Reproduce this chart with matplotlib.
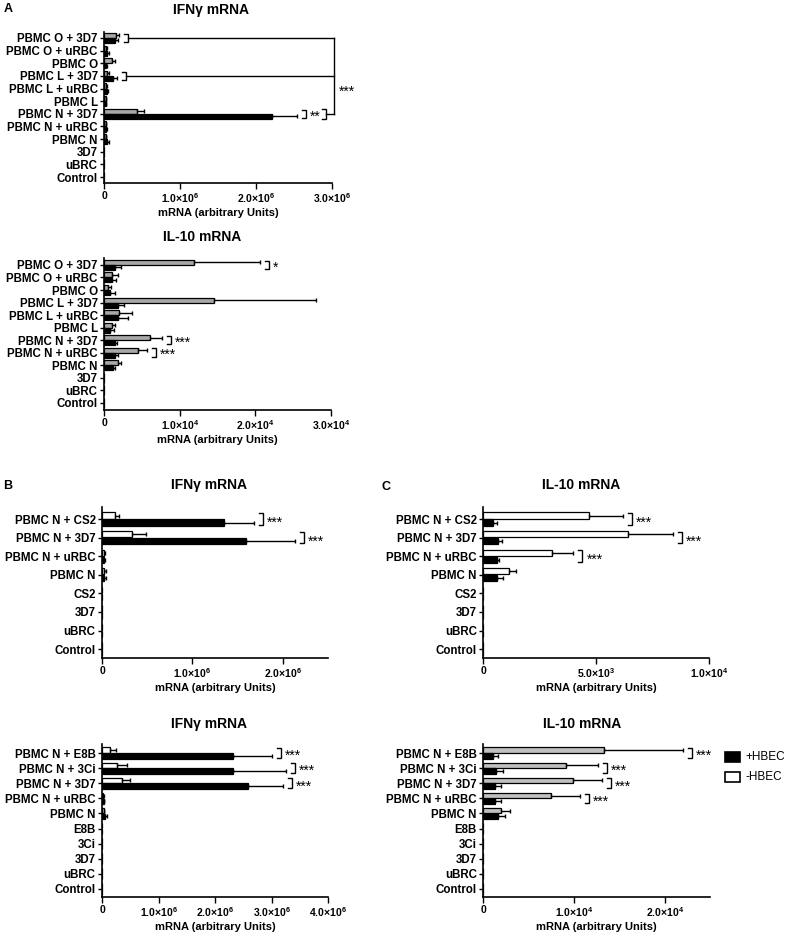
import matplotlib
matplotlib.use("Agg")
import matplotlib.pyplot as plt
from matplotlib.patches import Rectangle
import numpy as np

plt.rcParams['font.family'] = ['Liberation Sans', 'DejaVu Sans']
plt.rcParams['font.weight'] = 'bold'
plt.rcParams['mathtext.fontset'] = 'custom'
plt.rcParams['mathtext.rm'] = 'Liberation Sans:bold'
plt.rcParams['mathtext.default'] = 'rm'

# ---- data ----
cats_A = ["PBMC O + 3D7", "PBMC O + uRBC", "PBMC O", "PBMC L + 3D7", "PBMC L + uRBC",
          "PBMC L", "PBMC N + 3D7", "PBMC N + uRBC", "PBMC N", "3D7", "uBRC", "Control"]
ifn_A_minus = [0.16e6, 0.03e6, 0.10e6, 0.04e6, 0.03e6, 0.02e6, 0.43e6, 0.02e6, 0.02e6, 0, 0, 0]
ifn_A_minus_sem = [0.04e6, 0.01e6, 0.05e6, 0.02e6, 0.01e6, 0.01e6, 0.09e6, 0.01e6, 0.01e6, 0, 0, 0]
ifn_A_plus = [0.14e6, 0.04e6, 0.03e6, 0.12e6, 0.04e6, 0.02e6, 2.21e6, 0.03e6, 0.04e6, 0, 0, 0]
ifn_A_plus_sem = [0.04e6, 0.02e6, 0.01e6, 0.05e6, 0.01e6, 0.01e6, 0.33e6, 0.01e6, 0.02e6, 0, 0, 0]

il10_A_minus = [1.19e4, 0.10e4, 0.05e4, 1.46e4, 0.20e4, 0.10e4, 0.61e4, 0.45e4, 0.19e4, 0, 0, 0]
il10_A_minus_sem = [0.87e4, 0.08e4, 0.04e4, 1.34e4, 0.17e4, 0.04e4, 0.16e4, 0.12e4, 0.03e4, 0, 0, 0]
il10_A_plus = [0.14e4, 0.10e4, 0.08e4, 0.185e4, 0.19e4, 0.08e4, 0.14e4, 0.14e4, 0.12e4, 0, 0, 0]
il10_A_plus_sem = [0.09e4, 0.06e4, 0.06e4, 0.085e4, 0.13e4, 0.05e4, 0.03e4, 0.04e4, 0.03e4, 0, 0, 0]

cats_B1 = ["PBMC N + CS2", "PBMC N + 3D7", "PBMC N + uRBC", "PBMC N", "CS2", "3D7", "uBRC", "Control"]
ifn_B1_minus = [0.14e6, 0.33e6, 0.02e6, 0.02e6, 0, 0, 0, 0]
ifn_B1_minus_sem = [0.05e6, 0.16e6, 0.01e6, 0.02e6, 0, 0, 0, 0]
ifn_B1_plus = [1.35e6, 1.59e6, 0.02e6, 0.02e6, 0, 0, 0, 0]
ifn_B1_plus_sem = [0.33e6, 0.54e6, 0.01e6, 0.02e6, 0, 0, 0, 0]

il10_C1_minus = [0.47e4, 0.64e4, 0.306e4, 0.114e4, 0, 0, 0, 0]
il10_C1_minus_sem = [0.15e4, 0.20e4, 0.094e4, 0.03e4, 0, 0, 0, 0]
il10_C1_plus = [0.045e4, 0.066e4, 0.06e4, 0.062e4, 0, 0, 0, 0]
il10_C1_plus_sem = [0.015e4, 0.016e4, 0.012e4, 0.027e4, 0, 0, 0, 0]

cats_B2 = ["PBMC N + E8B", "PBMC N + 3Ci", "PBMC N + 3D7", "PBMC N + uRBC", "PBMC N",
           "E8B", "3Ci", "3D7", "uBRC", "Control"]
ifn_B2_minus = [0.15e6, 0.26e6, 0.35e6, 0.02e6, 0.03e6, 0, 0, 0, 0, 0]
ifn_B2_minus_sem = [0.09e6, 0.18e6, 0.14e6, 0.01e6, 0.01e6, 0, 0, 0, 0, 0]
ifn_B2_plus = [2.31e6, 2.32e6, 2.59e6, 0.03e6, 0.05e6, 0, 0, 0, 0, 0]
ifn_B2_plus_sem = [0.69e6, 0.94e6, 0.61e6, 0.01e6, 0.03e6, 0, 0, 0, 0, 0]

il10_C2_minus = [1.33e4, 0.917e4, 0.99e4, 0.75e4, 0.20e4, 0, 0, 0, 0, 0]
il10_C2_minus_sem = [0.87e4, 0.353e4, 0.32e4, 0.32e4, 0.10e4, 0, 0, 0, 0, 0]
il10_C2_plus = [0.114e4, 0.14e4, 0.13e4, 0.13e4, 0.17e4, 0, 0, 0, 0, 0]
il10_C2_plus_sem = [0.056e4, 0.08e4, 0.07e4, 0.07e4, 0.07e4, 0, 0, 0, 0, 0]

sig_A1 = {"PBMC O + 3D7": "", "PBMC L + 3D7": "", "PBMC N + 3D7": "**"}
sig_A2 = {"PBMC O + 3D7": "*", "PBMC N + 3D7": "***", "PBMC N + uRBC": "***"}
sig_B1 = {"PBMC N + CS2": "***", "PBMC N + 3D7": "***"}
sig_C1 = {"PBMC N + CS2": "***", "PBMC N + 3D7": "***", "PBMC N + uRBC": "***"}
sig_B2 = {"PBMC N + E8B": "***", "PBMC N + 3Ci": "***", "PBMC N + 3D7": "***"}
sig_C2 = {"PBMC N + E8B": "***", "PBMC N + 3Ci": "***", "PBMC N + 3D7": "***", "PBMC N + uRBC": "***"}

ticks_1e6_3 = ["0", "1.0×10$^{6}$", "2.0×10$^{6}$", "3.0×10$^{6}$"]
ticks_1e4_3 = ["0", "1.0×10$^{4}$", "2.0×10$^{4}$", "3.0×10$^{4}$"]
ticks_1e6_2 = ["0", "1.0×10$^{6}$", "2.0×10$^{6}$"]
ticks_5e3 = ["0", "5.0×10$^{3}$", "1.0×10$^{4}$"]
ticks_1e6_4 = ["0", "1.0×10$^{6}$", "2.0×10$^{6}$", "3.0×10$^{6}$", "4.0×10$^{6}$"]
ticks_1e4_2 = ["0", "1.0×10$^{4}$", "2.0×10$^{4}$"]

W, H = 797, 936
fig = plt.figure(figsize=(W / 100, H / 100), dpi=100)


def make_ax(x0, y0, x1, y1):
    return fig.add_axes([x0 / W, 1 - y1 / H, (x1 - x0) / W, (y1 - y0) / H])


def bracket(ax, x, y, half, w):
    ax.plot([x, x + w, x + w, x], [y + half, y + half, y - half, y - half],
            color='k', lw=1, clip_on=False, solid_joinstyle='miter')


def panel(ax, cats, minus, minus_sem, plus, plus_sem, xmax, tickvals, ticklabels,
          ylim, h, off, mcol, sig, width_px):
    n = len(cats)
    pos = np.arange(n)[::-1].astype(float)
    minus = np.array(minus); plus = np.array(plus)
    msem = np.array(minus_sem); psem = np.array(plus_sem)
    ax.barh(pos + off, minus, height=h, color=mcol, edgecolor='k', linewidth=0.9, zorder=2)
    ax.barh(pos - off, plus, height=h, color='k', edgecolor='k', linewidth=0.9, zorder=2)
    for y, v, s in ((pos + off, minus, msem), (pos - off, plus, psem)):
        m = v > 0
        ax.errorbar(v[m], y[m], xerr=[np.zeros(m.sum()), s[m]], fmt='none',
                    ecolor='k', elinewidth=1, capsize=1.5, capthick=1, zorder=3)
    ax.set_xlim(0, xmax)
    ax.set_ylim(*ylim)
    ax.set_yticks(pos, cats, fontsize=8.3, fontweight='bold')
    ax.set_xticks(tickvals, ticklabels, fontsize=7.5, fontweight='bold')
    ax.set_xlabel("mRNA (arbitrary Units)", fontsize=8, fontweight='bold', labelpad=2)
    for s in ('top', 'right'):
        ax.spines[s].set_visible(False)
    for s in ('left', 'bottom'):
        ax.spines[s].set_linewidth(1.2)
    ax.tick_params(axis='y', length=3, width=1, pad=1.5)
    ax.tick_params(axis='x', length=4, width=1, pad=2)
    upx = xmax / width_px
    out = {}
    for c, stars in sig.items():
        i = cats.index(c)
        y = pos[i]
        top = max(minus[i] + msem[i], plus[i] + psem[i])
        xb = top + 5 * upx
        bracket(ax, xb, y, off + h * 0.35, 4 * upx)
        if stars:
            ax.text(xb + 8 * upx, y - 0.2, stars, fontsize=10, fontweight='normal',
                    va='center', ha='left', clip_on=False)
        out[c] = (xb + 4 * upx, y)
    return out, upx


# panel A, IFN-gamma
axA1 = make_ax(104, 32, 332, 183)
brA1, upx = panel(axA1, cats_A, ifn_A_minus, ifn_A_minus_sem, ifn_A_plus, ifn_A_plus_sem,
                  3e6, [0, 1e6, 2e6, 3e6], ticks_1e6_3, (-0.47, 11.47), 0.4, 0.2, '#a8a8a8',
                  sig_A1, 228)
# long comparison bracket on the right
xr = 3e6 + 2 * upx
yN = brA1["PBMC N + 3D7"][1]
xN2 = 2.87e6
bracket(axA1, xN2, yN, 0.4, 4 * upx)
axA1.plot([xN2 + 4 * upx, xr], [yN, yN], color='k', lw=1, clip_on=False)
for c in ("PBMC O + 3D7", "PBMC L + 3D7"):
    xs, ys = brA1[c]
    axA1.plot([xs, xr], [ys, ys], color='k', lw=1, clip_on=False)
axA1.plot([xr, xr], [brA1["PBMC O + 3D7"][1], yN], color='k', lw=1, clip_on=False)
axA1.text(xr + 5 * upx, 6.75, "***", fontsize=10, fontweight='normal', va='center',
          ha='left', clip_on=False)

axA2 = make_ax(104, 258, 331, 410)
panel(axA2, cats_A, il10_A_minus, il10_A_minus_sem, il10_A_plus, il10_A_plus_sem,
      3e4, [0, 1e4, 2e4, 3e4], ticks_1e4_3, (-0.56, 11.55), 0.4, 0.2, '#a8a8a8', sig_A2, 227)

axB1 = make_ax(102, 507, 328, 658)
panel(axB1, cats_B1, ifn_B1_minus, ifn_B1_minus_sem, ifn_B1_plus, ifn_B1_plus_sem,
      2.5e6, [0, 1e6, 2e6], ticks_1e6_2, (-0.48, 7.65), 0.34, 0.19, 'white', sig_B1, 226)

axC1 = make_ax(483, 507, 709, 658)
panel(axC1, cats_B1, il10_C1_minus, il10_C1_minus_sem, il10_C1_plus, il10_C1_plus_sem,
      1e4, [0, 5e3, 1e4], ticks_5e3, (-0.48, 7.65), 0.34, 0.19, 'white', sig_C1, 226)

axB2 = make_ax(102, 744, 328, 897)
panel(axB2, cats_B2, ifn_B2_minus, ifn_B2_minus_sem, ifn_B2_plus, ifn_B2_plus_sem,
      4e6, [0, 1e6, 2e6, 3e6, 4e6], ticks_1e6_4, (-0.53, 9.6), 0.36, 0.19, 'white', sig_B2, 226)

axC2 = make_ax(483, 744, 710, 897)
panel(axC2, cats_B2, il10_C2_minus, il10_C2_minus_sem, il10_C2_plus, il10_C2_plus_sem,
      2.5e4, [0, 1e4, 2e4], ticks_1e4_2, (-0.53, 9.6), 0.36, 0.19, '#c0c0c0', sig_C2, 227)

# titles and panel letters
for x, y, t in ((211, 10, "IFNγ mRNA"), (202, 237, "IL-10 mRNA"), (209, 485, "IFNγ mRNA"),
                (581, 485, "IL-10 mRNA"), (209, 724, "IFNγ mRNA"), (582, 724, "IL-10 mRNA")):
    fig.text(x / W, 1 - y / H, t, fontsize=10, fontweight='bold', ha='center', va='center')
for x, y, t in ((8, 9, "A"), (8, 486, "B"), (386, 487, "C")):
    fig.text(x / W, 1 - y / H, t, fontsize=9, fontweight='bold', ha='center', va='center')

# legend
for y, fc, lab in ((757, 'k', "+HBEC"), (777, 'white', "-HBEC")):
    fig.add_artist(Rectangle((725 / W, 1 - (y + 5) / H), 15 / W, 10 / H, facecolor=fc,
                             edgecolor='k', linewidth=1.2, transform=fig.transFigure))
    fig.text(745 / W, 1 - y / H, lab, fontsize=8.5, fontweight='normal', va='center', ha='left')

fig.savefig("out.png", dpi=100)
